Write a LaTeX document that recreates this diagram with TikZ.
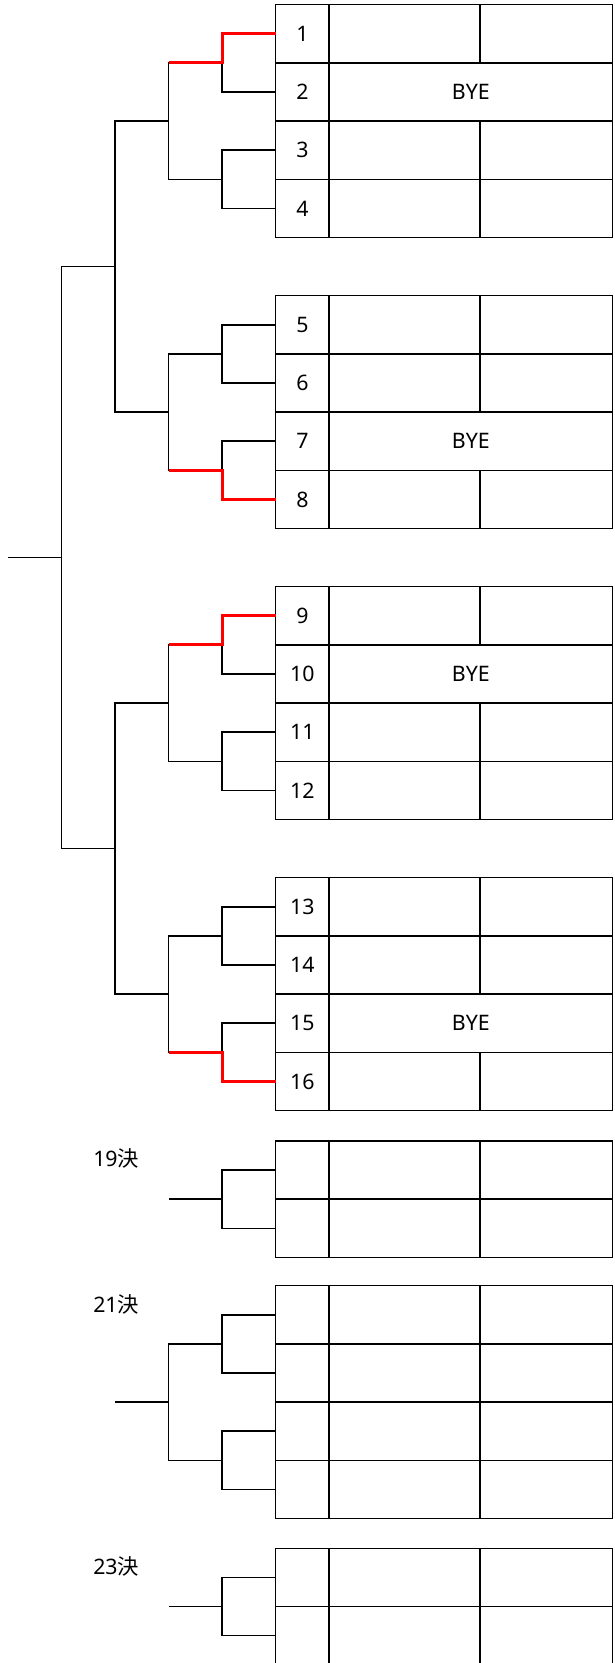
\documentclass[tikz,border=0pt]{standalone}
\usepackage{fontspec}
\setmainfont{Noto Sans}
\newfontfamily\cjk{Noto Sans CJK JP}
\usetikzlibrary{calc}

\tikzset{
  cell/.style={draw,line width=1.1pt,inner sep=0pt,outer sep=0pt,minimum height=43.65pt},
  numcell/.style={cell,minimum width=40pt,anchor=north west},
  namecell/.style={cell,minimum width=113.25pt,anchor=west},
  clubcell/.style={cell,minimum width=99.5pt,anchor=west},
  byecell/.style={cell,minimum width=212.75pt,anchor=west},
  tie/.style={line width=1.1pt},
  win/.style={line width=2.3pt,red},
  round/.style={anchor=west,inner sep=0pt}
}

\begin{document}
\begin{tikzpicture}[x=0.75pt,y=-0.75pt,font=\fontsize{16}{19}\selectfont]
\useasboundingbox (0,0) rectangle (614,1663);

% entries
\foreach \i/\ty in {1/4.7,2/62.9,3/121.1,4/179.3,5/295.7,6/353.9,7/412.1,8/470.3,
  9/586.7,10/644.9,11/703.1,12/761.3,13/877.7,14/935.9,15/994.1,16/1052.3,
  17/1141,18/1199.2,19/1285.7,20/1343.9,21/1402.1,22/1460.3,23/1548.3,24/1606.5}
  \node[numcell] (e\i) at (275.7,\ty) {\ifnum\i<17 \i\fi};
\foreach \i in {2,7,10,15}
  \node[byecell] (n\i) at (e\i.east) {BYE};
\foreach \i in {1,3,4,5,6,8,9,11,12,13,14,16,17,18,19,20,21,22,23,24}{
  \node[namecell] (n\i) at (e\i.east) {};
  \node[clubcell] (c\i) at (n\i.east) {};
}

% first round
\foreach \a/\b/\p in {1/2/p1,3/4/p2,5/6/p3,7/8/p4,9/10/p5,11/12/p6,13/14/p7,15/16/p8,
  17/18/p9,19/20/p10,21/22/p11,23/24/p12}{
  \coordinate (\p) at ($(e\a.south west)+(-53.5,0)$);
  \draw[tie] (e\a.west) -| (\p) |- (e\b.west);
}
% later rounds
\foreach \a/\b/\q in {p1/p2/q1,p3/p4/q2,p5/p6/q3,p7/p8/q4,p10/p11/q5,q1/q2/r1,q3/q4/r2,r1/r2/s1}{
  \coordinate (\q) at ($(\a)!0.5!(\b)+(-53.5,0)$);
  \draw[tie] (\a) -| (\q) |- (\b);
}
\coordinate (w1) at ($(s1)+(-53.5,0)$);
\coordinate (w19) at ($(p9)+(-53.5,0)$);
\coordinate (w21) at ($(q5)+(-53.5,0)$);
\coordinate (w23) at ($(p12)+(-53.5,0)$);
\draw[tie] (s1) -- (w1) (p9) -- (w19) (q5) -- (w21) (p12) -- (w23);

% winners
\draw[win] (e1.west) -| (p1) -- (p1 -| q1);
\draw[win] (e8.west) -| (p4) -- (p4 -| q2);
\draw[win] (e9.west) -| (p5) -- (p5 -| q3);
\draw[win] (e16.west) -| (p8) -- (p8 -| q4);

\node[round] (l19) at (93,1158) {19{\cjk 決}};
\node[round] (l21) at (93,1304) {21{\cjk 決}};
\node[round] (l23) at (93,1566) {23{\cjk 決}};
\end{tikzpicture}
\end{document}
